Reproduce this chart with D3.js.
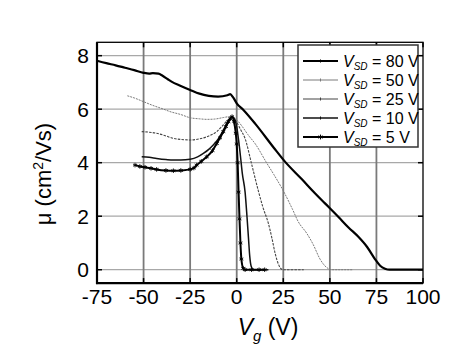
<!DOCTYPE html>
<html><head><meta charset="utf-8">
<script src="https://cdn.jsdelivr.net/npm/d3@7"></script>
<style>
body{margin:0;background:#fff;}
svg{display:block;font-family:"Liberation Sans",Arial,Helvetica,sans-serif;}
</style></head>
<body>
<svg id="chart" width="463" height="364"></svg>
<script>
// ---- data ----
const xTicks = [-75,-50,-25,0,25,50,75,100];
const yTicks = [0,2,4,6,8];
const seriesNames = ["80 V","50 V","25 V","10 V","5 V"];

const vg80 = [-75,-70,-65,-60,-55,-50,-47,-45,-42,-40,-37,-35,-30,-25,-20,-15,-10,-5,-3.5,-2,0,3.6,10,20,25.9,35,42,47.4,54.5,60,65.3,70,74.2,77,79.6,82,90,100];
const mu80 = [7.81,7.72,7.64,7.55,7.46,7.36,7.33,7.35,7.33,7.26,7.12,7.03,6.87,6.72,6.58,6.5,6.47,6.52,6.56,6.45,6.22,5.97,5.45,4.55,4.04,3.38,2.86,2.48,1.98,1.58,1.23,0.85,0.4,0.15,0.04,0,0,0];

const vg50 = [-58.7,-55,-50,-45,-40,-35.8,-30,-25,-20,-16,-12,-7,-4,-2.5,0,3,6,10,16,20,25,30,33,37.6,41,44.7,47,49,51,55,62];
const mu50 = [6.5,6.42,6.28,6.14,6.02,5.91,5.8,5.68,5.64,5.62,5.63,5.69,5.72,5.72,5.6,5.35,5.05,4.7,4.0,3.55,2.95,2.25,1.8,1.36,0.95,0.4,0.17,0.05,0,0,0];

const vg25 = [-51,-47,-43,-38,-34,-30,-25,-20,-16,-13,-10.7,-9,-7.2,-5.4,-4,-2.5,-1,0.5,2,4.5,8,11.6,14,17,19,20.6,22,23.5,25,30,36];
const mu25 = [5.16,5.14,5.10,5.0,4.91,4.87,4.85,4.89,4.97,5.06,5.16,5.28,5.41,5.55,5.65,5.72,5.62,5.45,5.25,4.9,3.95,2.95,2.35,1.73,1.15,0.62,0.28,0.06,0,0,0];

const vg10 = [-51,-47,-43,-38,-34,-30,-25,-21,-17.9,-15,-12.6,-10,-8.1,-6.5,-5.4,-4,-2.5,-1,0,1,2,3,4.5,5.5,6.3,7,7.8,9,13,17];
const mu10 = [4.22,4.2,4.16,4.12,4.1,4.1,4.13,4.22,4.35,4.5,4.66,4.88,5.1,5.3,5.47,5.62,5.72,5.6,5.35,4.85,4.25,3.6,2.9,2.0,1.2,0.5,0.12,0,0,0];

const vg5 = [-54.6,-52,-49.2,-46,-43,-38,-34,-30,-25,-23,-21.5,-19,-16.1,-13,-10.7,-9,-7.2,-5.8,-4.5,-3.5,-2.5,-1.5,-0.5,0,0.5,1,1.5,2,2.5,3.5,4.5,8,12,15];
const mu5 = [3.91,3.86,3.83,3.79,3.75,3.71,3.70,3.71,3.75,3.8,3.91,4.05,4.22,4.45,4.72,4.93,5.16,5.35,5.53,5.64,5.72,5.55,5.1,4.7,4.0,2.9,1.9,1.0,0.4,0.05,0,0,0,0];

// ---- layout ----
const L = 97, R = 423, T = 42.3, B = 283.1;
const svg = d3.select("#chart");
const x = d3.scaleLinear().domain([-75,100]).range([L,R]);
const y = d3.scaleLinear().domain([-0.5,8.5]).range([B,T]);

const styles = [
  {stroke:"#000", width:2.2, dash:null, marker:null},
  {stroke:"#7a7a7a", width:1, dash:"2,1", marker:null},
  {stroke:"#444", width:1.1, dash:"2.5,1.2", marker:null},
  {stroke:"#111", width:1.5, dash:null, marker:null},
  {stroke:"#000", width:2, dash:null, marker:"star"}
];
const series = [
  {vg:vg80, mu:mu80},{vg:vg50, mu:mu50},{vg:vg25, mu:mu25},{vg:vg10, mu:mu10},{vg:vg5, mu:mu5}
];

// grid
svg.append("g").selectAll("line").data(yTicks).join("line")
  .attr("x1",L).attr("x2",R).attr("y1",d=>y(d)).attr("y2",d=>y(d))
  .attr("stroke","#a8a8a8").attr("stroke-width",1.3);
svg.append("g").selectAll("line").data(xTicks.slice(1,-1)).join("line")
  .attr("y1",T).attr("y2",B).attr("x1",d=>x(d)).attr("x2",d=>x(d))
  .attr("stroke","#7a7a7a").attr("stroke-width",1.8);

// curves
const line = d3.line().x(d=>x(d[0])).y(d=>y(d[1])).curve(d3.curveMonotoneX);
series.forEach((s,i)=>{
  const pts = s.vg.map((v,j)=>[v,s.mu[j]]);
  const st = styles[i];
  svg.append("path").datum(pts).attr("d",line)
    .attr("fill","none").attr("stroke",st.stroke).attr("stroke-width",st.width)
    .attr("stroke-dasharray",st.dash).attr("stroke-linejoin","round");
  if(st.marker==="star"){
    svg.append("g").selectAll("path").data(pts).join("path")
      .attr("transform",d=>`translate(${x(d[0])},${y(d[1])})`)
      .attr("d",d3.symbol(d3.symbolAsterisk,14))
      .attr("fill","none").attr("stroke","#000").attr("stroke-width",0.9);
  }
});

// frame
svg.append("rect").attr("x",L).attr("y",T).attr("width",R-L).attr("height",B-T)
  .attr("fill","none").attr("stroke","#000").attr("stroke-width",1.3);
svg.append("line").attr("x1",L).attr("x2",L).attr("y1",T).attr("y2",B+1).attr("stroke","#000").attr("stroke-width",2.2);
svg.append("line").attr("x1",L-1).attr("x2",R).attr("y1",B).attr("y2",B).attr("stroke","#000").attr("stroke-width",2.2);

// axes with inward ticks
const tk = 5;
const ax = svg.append("g");
xTicks.forEach(t=>{
  ax.append("line").attr("x1",x(t)).attr("x2",x(t)).attr("y1",B).attr("y2",B-tk).attr("stroke","#000").attr("stroke-width",1.5);
  ax.append("line").attr("x1",x(t)).attr("x2",x(t)).attr("y1",T).attr("y2",T+tk).attr("stroke","#000").attr("stroke-width",1.5);
  ax.append("text").attr("x",x(t)).attr("y",304).attr("text-anchor","middle")
    .attr("font-size",21).text(String(t));
});
yTicks.forEach(t=>{
  ax.append("line").attr("x1",L).attr("x2",L+tk).attr("y1",y(t)).attr("y2",y(t)).attr("stroke","#000").attr("stroke-width",1.5);
  ax.append("line").attr("x1",R).attr("x2",R-tk).attr("y1",y(t)).attr("y2",y(t)).attr("stroke","#000").attr("stroke-width",1.5);
  ax.append("text").attr("x",89).attr("y",y(t)+7.5).attr("text-anchor","end")
    .attr("font-size",21).text(t);
});

// axis titles
const xt = svg.append("text").attr("x",268).attr("y",335).attr("text-anchor","middle").attr("font-size",23);
xt.append("tspan").attr("font-style","italic").text("V");
xt.append("tspan").attr("font-style","italic").attr("font-size",15).attr("dy",6).text("g");
xt.append("tspan").attr("dy",-6).text(" (V)");

const yt = svg.append("text").attr("transform","translate(51,174) rotate(-90)").attr("text-anchor","middle").attr("font-size",22);
yt.append("tspan").text("\u03bc (cm");
yt.append("tspan").attr("font-size",14).attr("dy",-8).text("2");
yt.append("tspan").attr("dy",8).text("/Vs)");

// legend
const lg = svg.append("g");
lg.append("rect").attr("x",298).attr("y",45).attr("width",120).attr("height",102)
  .attr("fill","#fff").attr("stroke","#333").attr("stroke-width",1.5);
seriesNames.forEach((n,i)=>{
  const yy = 61 + i*19, st = styles[i];
  lg.append("line").attr("x1",303).attr("x2",338).attr("y1",yy).attr("y2",yy)
    .attr("stroke",st.stroke).attr("stroke-width",Math.min(st.width,1.8));
  if(st.marker==="star"){
    lg.append("path").attr("transform",`translate(320.5,${yy})`).attr("d",d3.symbol(d3.symbolAsterisk,16))
      .attr("fill","none").attr("stroke","#000").attr("stroke-width",1);
  } else {
    lg.append("line").attr("x1",320.5).attr("x2",320.5).attr("y1",yy-1.5).attr("y2",yy+1.5).attr("stroke",st.stroke).attr("stroke-width",1);
  }
  const t = lg.append("text").attr("x",343).attr("y",yy+5.5).attr("font-size",16);
  t.append("tspan").attr("font-style","italic").text("V");
  t.append("tspan").attr("font-style","italic").attr("font-size",10).attr("dy",3.5).text("SD");
  t.append("tspan").attr("dy",-3.5).text(" = " + n);
});
</script>
</body></html>
